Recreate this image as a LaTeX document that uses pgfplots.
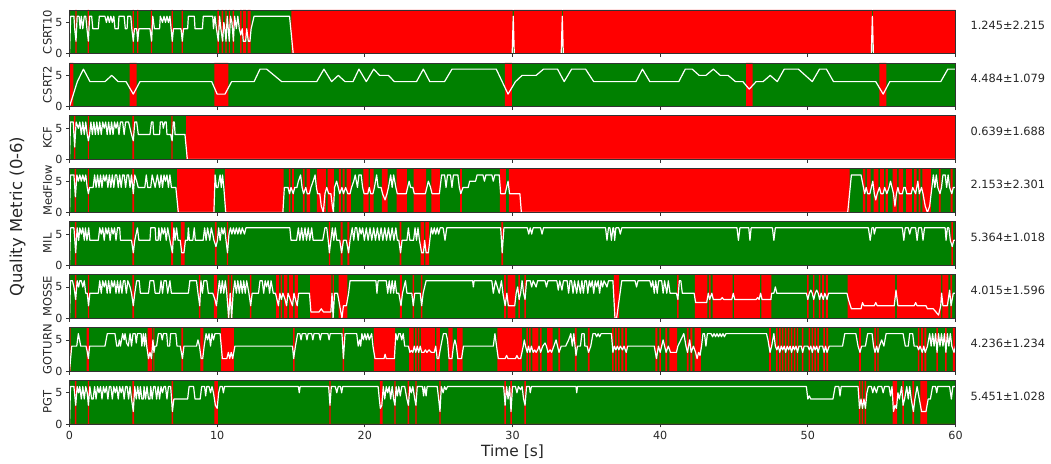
\documentclass[border=0pt]{standalone}
\usepackage{fontspec}
\setmainfont{DejaVu Sans}
\usepackage{pgfplots}
\usepackage{pgfplotstable}
\pgfplotsset{compat=1.18}
\definecolor{mpgreen}{RGB}{0,128,0}
\definecolor{mpred}{RGB}{255,0,0}
\definecolor{spine}{RGB}{50,50,50}

\pgfplotstableread{
t v
0 0
0.08 6
0.3 6
0.35 4
0.44 2
0.52 6
0.65 6
0.72 4
0.8 6
0.9 4
1.0 6
1.1 6
1.18 4
1.28 2
1.36 6
1.5 6
1.58 4
1.95 4
2.02 6
2.4 6
2.5 5
2.6 6
2.7 5
2.8 6
2.9 5
3.0 6
3.08 4
3.3 4
3.35 6
3.7 6
3.78 4
3.9 4
3.95 6
4.15 6
4.22 4
4.32 2
4.4 4
4.55 4
4.62 2
4.7 4
5.45 4
5.56 2
5.64 6
5.75 4
6.1 4
6.15 6
6.3 5
6.4 6
6.5 5
6.6 6
6.7 5
6.8 6
6.88 4
6.96 2
7.04 4
7.55 4
7.64 2
7.72 4
8.0 4
8.05 6
8.45 6
8.5 4
9.0 4
9.06 6
9.7 6
9.75 4
9.85 6
9.95 4
10.08 2
10.16 6
10.25 4
10.37 2
10.45 5
10.52 4
10.6 2
10.68 6
10.75 4
10.82 2
10.9 6
11.0 5
11.1 2
11.18 6
11.3 4
11.4 6
11.5 4
11.6 3
11.7 4
11.77 2
11.93 2
12.0 4
12.11 2
12.22 2
12.3 4
12.5 6
14.9 6
15.15 0
29.98 0
30.05 6
30.12 0
33.3 0
33.37 6
33.44 0
54.3 0
54.37 6
54.44 0
60 0
}\dA

\pgfplotstableread{
t v
0 0
0.53 4
0.94 6
1.39 4
2.4 4
2.86 5
3.3 4
3.83 4
4.32 2
4.77 4
9.63 4
10.0 2
10.53 2
10.98 4
12.5 4
12.9 6
13.35 6
14.37 4
16.74 4
17.23 6
17.75 4
18.2 5
18.66 4
19.2 4
19.6 6
20.1 4
20.6 6
21.0 5
21.6 5
22.0 4
23.5 4
23.96 6
24.4 4
25.4 4
25.9 6
28.9 6
29.25 4.25
29.7 2
30.2 4
30.65 5
31.6 5
32.1 6
33.05 6
33.5 4
34.0 6
34.95 6
35.5 4
38.36 4
38.8 6
39.3 4
41.26 4
41.7 6
42.17 6
42.64 5
43.1 5
43.6 6
44.07 5
44.6 5
45.1 4
45.6 4
46.03 2.8
46.5 4
46.97 4
47.45 5
47.93 4
48.4 6
49.36 6
50.3 4
50.79 6
51.26 6
51.74 4
54.6 4
55.1 2
55.55 4
59.0 4
59.48 6
60 6
}\dB

\pgfplotstableread{
t v
0 0
0.07 6
0.25 6
0.35 2
0.45 6
0.6 5
0.7 6
0.8 4
0.9 6
1.0 4
1.1 6
1.2 4
1.28 3
1.36 4
1.45 6
1.55 4
1.65 6
1.75 4
1.85 6
1.95 4
2.05 6
2.15 4
2.25 6
2.35 5
2.45 6
2.55 4
2.65 6
2.75 4
2.85 6
2.95 4
3.05 6
3.15 5
3.25 6
3.35 4
3.45 6
3.6 6
3.7 4
3.8 6
4.0 6
4.1 5
4.2 4
4.32 3
4.42 6
4.55 6
4.66 4
5.45 4
5.55 6
5.65 6
5.7 4
6.1 4
6.15 6
6.3 6
6.35 5
6.45 6
6.55 6
6.6 4
6.85 4
6.95 3
7.03 6
7.1 6
7.15 4
7.82 4
7.98 0
60 0
}\dC

\pgfplotstableread{
t v
0 0
0.07 6
0.3 6
0.4 2.5
0.5 6
0.6 5
0.7 6
0.8 5
0.9 6
1.0 5
1.1 6
1.2 4
1.28 3
1.36 4
1.6 4
1.7 6
1.8 4
1.9 6
2.0 4
2.1 6
2.2 4
2.3 6
2.4 5
2.5 6
2.6 4
2.7 6
2.8 4
2.9 6
3.0 4
3.1 6
3.2 6
3.3 4
3.4 6
3.5 4
3.6 6
3.7 6
3.8 4
3.9 6
4.0 6
4.1 4
4.2 6
4.32 3
4.42 6
4.55 5
4.65 4
5.1 4
5.2 6
5.3 4
5.5 4
5.6 6
5.7 5
5.8 4
5.95 6
6.1 4
6.2 6
6.3 4
6.4 6
6.5 5
6.6 6
6.7 4
6.8 6
6.9 4
7.2 4
7.37 0
9.78 0
9.86 6
9.95 4
10.05 4
10.2 6
10.28 4
10.36 6
10.45 4
10.58 0
14.45 0
14.55 4
14.8 4
14.9 3
15.0 4
15.15 3
15.25 4
15.4 4
15.5 5
15.65 6
15.75 4
15.85 3
16.0 4
16.1 3
16.25 3
16.35 4
16.5 5
16.63 6
16.72 4
16.8 3
16.95 3
17.05 1
17.19 0
17.3 3
17.42 4
17.55 3
17.7 3
17.8 1
17.87 0
17.95 4
18.09 5
18.2 4
18.3 3
18.45 4
18.55 3
18.7 4
18.85 3
19.0 3
19.1 4
19.25 5
19.35 6
19.5 4
19.6 6
19.75 6
19.85 4
19.95 3
20.2 3
20.3 4
20.4 3
20.55 3
20.65 4
20.8 6
20.9 4
21.1 4
21.2 3
21.37 2
21.5 3
21.6 4
21.75 6
21.85 4
21.95 6
22.1 4
22.2 3
22.8 3
22.9 4
23.0 5
23.1 4
23.25 4
23.35 3
24.1 3
24.2 4
24.3 5
24.45 4
24.55 3
25.05 3
25.1 4
25.2 6
25.4 6
25.5 4
25.6 6
25.8 6
25.9 4
26.0 6
26.3 6
26.4 4
26.5 3
26.65 4
27.0 4
27.1 5
27.5 5
27.6 6
28.0 6
28.1 5
28.2 6
28.6 6
28.7 5
28.8 6
29.1 6
29.2 3
29.5 3
29.6 4
29.7 5
29.8 3
30.5 3
30.6 0
52.7 0
52.95 6
53.6 6
53.85 3
53.95 4
54.05 3
54.2 3
54.3 4
54.4 5
54.5 3
54.6 2
54.7 3
54.85 4
54.95 3
55.1 3
55.2 4
55.35 3
55.5 4
55.6 5
55.7 4
55.8 3
55.9 1
56.0 3
56.1 4
56.2 3
56.4 3
56.5 4
56.6 4
56.7 3
57.0 3
57.1 4
57.3 3
57.45 5
57.55 3
57.7 4
57.8 3
57.95 1
58.1 0
58.25 1
58.4 4
58.5 6
58.6 4
58.7 6
58.8 4
58.95 3
59.05 4
59.15 6
59.3 6
59.4 4
59.5 6
59.6 4
59.75 3
59.85 4
60 4
}\dD

\pgfplotstableread{
t v
0 0
0.07 6
0.3 6
0.42 2
0.52 6
0.62 4
0.7 6
0.8 5
0.9 6
1.0 4
1.08 6
1.18 4
1.3 6
1.38 4
1.95 4
2.05 6
2.15 5
2.25 6
2.35 4
2.45 6
2.55 5
2.65 6
2.75 4
2.85 6
2.95 5
3.05 6
3.15 4
3.25 6
3.4 6
3.45 4
4.2 4
4.32 2
4.42 4
4.6 6
4.7 4
5.45 4
5.5 6
5.8 6
5.85 4
6.0 4
6.05 6
6.15 4
6.25 6
6.35 5
6.45 6
6.55 4
6.65 6
6.8 4
6.97 2
7.07 6
7.15 4
7.25 6
7.35 4
7.5 4
7.6 2
7.75 2
7.85 4
8.0 4
8.05 6
8.12 4
8.35 4
8.45 6
8.52 4
9.05 4
9.15 6
9.25 4
9.35 6
9.5 4
9.6 6
9.7 5
9.78 4
9.92 3
10.02 4
10.1 6
10.2 4
10.3 6
10.4 5
10.5 6
10.6 4
10.7 2
10.8 5
10.9 6
11.0 5
11.1 6
11.2 5
11.3 6
11.4 5
11.5 6
11.6 5
11.7 6
11.85 5
11.95 6
14.92 6
15.0 4
15.38 4
15.5 6
15.6 4
15.72 6
15.82 4
15.95 6
16.05 4
16.17 6
16.27 4
16.4 6
16.5 4
17.15 4
17.3 6
17.42 6
17.52 4
17.6 2
17.7 4
17.8 6
17.9 4
18.0 6
18.1 4
18.3 4
18.43 2
18.55 4
18.75 4
18.9 2
19.0 4
19.15 6
19.25 4
19.35 6
19.45 6
19.55 4
19.65 6
19.75 5
19.85 6
19.97 4
20.1 6
20.22 4
20.35 6
20.47 4
20.6 6
20.72 4
20.85 6
20.97 4
21.1 6
21.22 4
21.35 6
21.47 4
21.6 6
21.72 4
21.85 6
21.97 4
22.1 6
22.2 4
22.3 4
22.42 2
22.52 4
22.85 4
22.95 6
23.05 4
23.3 4
23.4 6
23.5 4
23.6 6
23.7 4
23.85 2
23.97 2
24.05 4
24.15 2
24.3 2
24.4 4
24.5 6
24.6 5
24.7 6
24.8 5
24.9 6
25.0 5
25.1 6
25.3 6
25.43 4
25.55 6
29.2 6
29.3 2
29.42 6
31.0 6
31.1 5
31.2 6
31.3 5
31.4 6
31.9 6
32.0 5
32.1 6
36.3 6
36.4 4
36.5 6
36.6 6
36.7 4
36.8 6
36.85 6
36.92 4
37.0 6
37.2 6
37.3 5
37.4 6
45.2 6
45.3 4
45.4 6
46.0 6
46.08 4
46.16 6
47.6 6
47.7 4
47.8 6
54.1 6
54.22 4
54.34 6
54.45 6
54.5 5
54.6 6
56.4 6
56.5 4
56.6 6
56.8 6
56.9 5
57.0 6
57.3 6
57.4 4
57.5 6
57.7 6
57.8 4
57.9 6
59.3 6
59.36 4
59.45 6
59.55 6
59.65 4
59.78 3
59.88 4
60 4
}\dE

\pgfplotstableread{
t v
0 0
0.07 6
0.2 6
0.3 5
0.42 3
0.52 6
0.62 5
0.7 6
0.8 6
0.9 5
1.0 6
1.1 4
1.2 4
1.29 2
1.38 4
1.95 4
2.05 6
2.15 4
2.25 6
2.35 5
2.45 6
2.55 4
2.65 6
2.75 4
2.85 6
2.95 5
3.05 6
3.15 4
3.25 6
3.35 4
3.45 6
3.55 4
3.65 6
3.75 6
3.85 4
3.95 6
4.1 5
4.2 4
4.32 2
4.42 4
4.55 6
4.72 6
4.8 4
5.35 4
5.45 6
5.7 6
5.8 4
6.1 4
6.2 6
6.3 4
6.4 6
6.55 6
6.65 4
6.8 6
6.9 4
8.05 4
8.15 6
8.6 6
8.7 4
8.82 2
8.9 6
9.0 4
9.1 6
9.3 6
9.4 4
9.7 4
9.85 3
9.95 2
10.05 4
10.15 6
10.25 4
10.35 6
10.45 4
10.55 6
10.65 4
10.78 0
10.88 4
10.98 0
11.08 4
11.2 6
11.3 4
11.4 6
11.5 4
11.6 6
11.7 4
11.8 6
11.9 4
12.0 6
12.15 4
12.27 2
12.37 4
12.8 4
12.9 6
13.05 6
13.15 4
13.25 6
13.35 5
13.45 6
13.55 4
13.65 6
13.8 4
13.95 4
14.05 3
14.15 2
14.25 4
14.35 3
14.45 4
14.6 3
14.7 2
14.8 4
14.95 3
15.1 2
15.2 4
15.3 3
15.42 2
15.52 4
16.25 4
16.35 1
16.9 1
17.05 1.5
17.2 1
17.7 1
17.78 4
17.85 0
17.95 4
18.15 4
18.3 2
18.45 0
18.55 2
18.75 2
18.9 4
19.0 6
20.75 6
20.82 4
20.9 6
21.45 6
21.55 4
21.65 6
21.75 4
21.85 6
21.95 4
22.05 6
22.15 4
22.3 4
22.45 2
22.55 4
22.75 6
22.85 4
23.18 4
23.28 2
23.38 4
23.75 4
23.85 2
23.95 4
24.15 6
27.3 6
27.35 5
27.4 6
28.6 6
28.7 4
28.85 6
29.1 4
29.25 6
29.35 4
29.5 2
29.62 4
29.72 2
30.15 2
30.25 4
30.35 5
30.45 3
30.55 4
30.65 6
30.75 4
30.85 3
30.95 6
31.2 6
31.3 5
31.4 6
31.6 5
31.7 6
32.2 6
32.3 5
32.4 6
33.0 6
33.1 4.5
33.2 6
33.35 4.5
33.45 6
33.7 6
33.8 4
33.9 6
34.0 6
34.1 4
34.2 6
34.35 4
34.45 6
34.6 4
34.7 6
34.8 4
34.9 6
35.0 6
35.1 4
35.2 6
35.3 5
35.4 6
35.5 4
35.6 6
35.7 5
35.8 6
35.9 4
36.0 6
36.1 5
36.2 6
36.4 5
36.5 6
36.8 6
36.94 0
37.05 0
37.4 6
38.3 6
38.4 5
38.5 6
39.3 6
39.4 5
39.5 6
39.6 4
39.7 6
39.8 4
39.9 6
40.1 6
40.2 4
40.3 6
40.45 4
40.55 6
40.67 4
41.1 4
41.2 3
41.3 6
41.4 6
41.5 4
42.3 4
42.4 2.5
43.15 2.5
43.26 4
43.35 3
43.5 4
43.6 3
44.1 3
44.2 3.3
44.3 3
44.85 3
44.95 4
45.05 3
46.5 3
46.6 3.3
46.7 3
46.8 4
46.9 3
47.5 3
47.55 4
47.7 4
47.8 5
47.9 4
49.9 4
50.0 3
50.1 4
50.2 4.5
50.3 4
50.4 3
50.5 4
50.6 4.5
50.7 4
50.8 3
50.9 4
51.05 3
51.15 4
51.3 3
51.4 4
52.65 4
52.75 3
52.95 1.5
53.6 1.5
53.7 2.5
53.8 2
54.5 2
54.6 2.5
54.7 2
55.85 2
55.97 4.5
56.1 2
57.2 2
57.3 2.5
57.4 2
58.0 2
58.1 1.5
58.5 1.5
58.85 0.5
59.0 2
59.06 4
59.15 2
59.45 2
59.6 4.5
59.7 2
59.85 4
60 4
}\dF

\pgfplotstableread{
t v
0 0
0.15 4
0.49 4
0.6 6
0.68 5
0.76 4
1.12 4
1.21 3
1.28 2
1.36 4
2.4 4
2.56 6
3.08 6
3.2 4
3.3 4
3.38 5
3.45 4
3.6 6
3.7 5
3.76 6
3.87 4.5
3.98 4
4.1 6
4.2 4
4.3 6
4.45 6
4.52 4.5
4.6 6
4.85 6
4.9 4
5.0 6
5.08 4
5.15 6
5.23 4
5.35 2
5.45 3
5.55 2
5.65 5
5.72 3
5.79 4
5.9 4
6.02 6
6.2 6
6.28 5
6.36 6
6.58 6
6.65 4
6.78 4
6.85 6
7.2 6
7.28 4
7.5 4
7.65 2
7.75 4
8.6 4
8.7 5
8.8 4
8.92 2
9.02 2
9.12 4
9.25 6
9.35 5
9.45 6
9.55 4
9.65 6
9.75 5
9.85 6
10.2 6
10.35 2
10.65 2
10.76 3
10.85 2
10.95 3
11.05 2
11.2 4
15.1 4
15.18 2
15.3 4
15.45 6
15.6 6
15.68 5
15.76 6
16.0 6
16.08 5
16.16 6
16.4 6
16.48 5
16.56 6
16.9 6
16.98 5
17.06 6
17.5 6
17.58 5
17.66 6
18.45 6
18.55 2
18.66 6
19.45 6
19.55 4
19.65 5
19.72 4
19.8 6
19.9 5
20.0 6
20.1 5
20.2 6
20.3 5
20.46 6
20.55 4
20.69 2
21.3 2
21.37 2.7
21.45 2
22.0 2
22.1 6
22.2 5
22.3 6
22.4 6
22.5 5
22.6 6
22.7 4
22.95 4
23.05 3
23.15 3.3
23.25 3
23.35 4
23.45 3
23.55 4
23.65 3
23.75 4
23.85 3
24.0 3
24.1 3.4
24.2 3
24.35 3.4
24.5 3
24.7 3
24.8 4
24.9 2
25.0 2
25.15 4
25.32 6
25.5 6
25.6 5
25.7 2
25.9 2
26.0 4
26.1 5
26.2 4
26.3 2
26.55 2
26.68 4
28.7 4
28.81 6
28.92 4
29.04 2
29.5 2
29.6 2.5
29.7 2
30.2 2
30.3 2.5
30.4 2
30.55 2
30.73 4
30.8 5
30.88 4
31.0 3
31.08 4
31.18 3
31.28 4
31.4 3
31.5 3.4
31.6 3
31.7 3.4
31.8 4
31.9 3
32.05 4
32.2 4.5
32.3 4
32.4 3
32.55 3.4
32.65 3
32.8 4
32.95 5
33.05 4
33.15 3
33.3 4
33.6 4
33.8 5
33.95 6
34.05 4
34.15 6
34.3 2.5
34.4 4
34.6 4
34.7 6
34.85 6
34.9 4
35.05 4
35.15 3
35.3 4
35.45 6
35.6 6
35.7 5.5
35.8 6
35.9 5.5
36.0 6
36.7 6
36.8 3
36.9 4
37.0 3.4
37.1 4
37.2 3.4
37.3 4
37.45 3.4
37.55 4
37.7 3
37.8 4
39.6 4
39.75 2
39.88 4
40.0 3
40.1 4
40.2 5
40.3 4
40.4 3
40.55 4
40.7 3
41.1 3
41.2 4
41.4 5
41.6 6
41.75 4
41.85 3
42.0 5
42.1 3
42.25 4
42.4 3
42.5 2
42.6 3
42.7 2.5
42.8 4
42.9 6
43.0 6
43.1 4
43.2 6
43.45 6
43.55 5.5
43.65 6
43.75 5.5
43.85 6
43.95 5.5
44.05 6
44.15 5.5
44.25 6
44.35 5.5
44.45 6
47.2 6
47.3 5
47.44 3
47.55 4
47.7 6
47.8 4
47.9 3.4
48.0 4
48.1 3
48.2 4
48.3 3.4
48.4 4
48.5 3
48.6 4
48.7 3.4
48.8 4
48.9 3
49.0 4
49.1 3.4
49.2 4
49.3 3
49.4 4
49.55 4
49.65 3
49.75 4
50.0 4
50.1 3.4
50.2 4
50.3 3
50.4 4
50.5 3.4
50.6 4
50.7 3
50.8 4
51.0 4
51.1 3
51.2 4
51.3 3
51.45 4
52.35 4
52.5 6
53.25 6
53.4 4
53.53 3
53.64 4
53.9 4
54.05 6
54.35 6
54.45 4
54.55 3
54.66 4
54.75 3
54.85 4
55.0 5
55.15 4
55.3 6
56.45 6
56.6 4
56.8 4
56.9 6
57.1 6
57.2 4
57.4 4
57.5 3.4
57.6 4
57.75 3
57.85 4
57.95 3
58.1 4
58.25 6
58.35 4
58.45 6
58.55 4
58.65 6
58.75 3
58.85 6
58.95 4
59.05 6
59.15 4
59.25 6
59.35 3
59.45 6
59.55 4
59.65 6
59.75 4
59.9 3
60 4
}\dG

\pgfplotstableread{
t v
0 0
0.07 6
0.3 6
0.42 3
0.52 6
0.62 5
0.7 6
0.8 4
0.9 6
1.0 4
1.1 6
1.2 5
1.28 3
1.38 6
1.5 4
1.6 4
1.7 6
1.8 4
1.9 6
2.0 5
2.1 6
2.2 4
2.3 6
2.4 5
2.5 6
2.6 4
2.7 6
2.8 6
2.9 4
3.0 6
3.1 5
3.2 6
3.3 4
3.4 6
3.5 5
3.6 6
3.7 4
3.8 6
3.9 6
4.0 4
4.1 6
4.2 4
4.32 2
4.42 6
4.52 4
4.62 6
4.72 4
4.8 6
4.9 4
5.0 4
5.05 6
5.15 4
5.25 6
5.35 4
5.45 4
5.5 6
5.6 4
5.7 6
5.8 6
5.9 4
6.0 6
6.1 4
6.2 6
6.3 5
6.4 6
6.5 6
6.6 4
6.7 6
6.85 6
6.97 2
7.07 4
7.15 4
8.0 4
8.1 6
8.4 6
8.5 4
8.85 4
8.95 6
9.15 6
9.22 4.5
9.3 6
9.45 6
9.55 5
9.65 6
9.75 5
9.88 3
10.0 2.5
10.1 5
10.2 6
10.35 6
10.42 5
10.5 6
15.5 6
15.56 5
15.62 6
17.55 6
17.64 3
17.73 6
18.0 6
18.1 5
18.2 6
18.35 6
18.43 5
18.5 6
20.9 6
20.98 4
21.05 2.5
21.15 3
21.25 6
21.35 4
21.45 6
21.55 5
21.65 6
21.75 4
21.85 6
21.95 4
22.04 3
22.12 6
22.2 4.5
22.3 6
22.4 4.5
22.5 6
22.7 6
22.85 4
22.95 3
23.05 6
23.15 5
23.25 6
23.38 4
23.46 3
23.55 6
23.9 6
23.98 4.5
24.05 6
24.15 4.5
24.22 6
24.9 6
25.0 4
25.09 2
25.18 6
25.3 5
25.4 6
25.5 5.5
25.6 6
29.4 6
29.5 3
29.6 6
29.7 4
29.8 6
29.9 2
30.0 6
30.2 6
30.3 5
30.4 6
30.55 5.5
30.65 6
30.75 4
30.85 3
30.95 6
31.15 6
31.2 5
31.28 6
34.3 6
34.35 5
34.4 6
49.9 6
50.0 4
50.1 4.5
50.2 4
51.7 4
51.85 6
52.1 6
52.18 4.5
52.26 6
53.4 6
53.5 2.5
53.6 4
53.7 2.5
53.8 4
53.9 2.5
54.0 5
54.1 6
54.3 6
54.4 5
54.5 6
54.65 5
54.75 6
55.0 6
55.1 5
55.2 6
55.5 6
55.6 4.5
55.7 6
55.8 2
55.9 3
56.0 2.5
56.1 5
56.2 4
56.35 6
56.45 3
56.55 4
56.7 6
56.8 4
56.9 6
57.0 4
57.15 2
57.25 4
57.4 6
57.55 4
57.7 2
58.0 2
58.15 4
58.3 4
58.45 6
58.65 6
58.73 5
58.8 6
59.6 6
59.72 4
59.82 6
60 6
}\dH

\pgfplotsset{
  panel/.style={
    scale only axis, width=886bp, height=43.7bp,
    xmin=0, xmax=60, ymin=0, ymax=7,
    anchor=south west,
    axis background/.style={fill=mpgreen},
    axis on top,
    xtick={0,10,20,30,40,50,60}, ytick={0,5},
    tick align=outside, major tick length=3.5bp,
    tick style={spine, line width=0.7bp},
    axis line style={spine, line width=0.7bp},
    xtick pos=lower, ytick pos=left,
    tick label style={font=\fontsize{11.2}{13}\selectfont, text=black!85},
    /pgf/number format/assume math mode=true,
  },
  nox/.style={xticklabels={}},
}

\newcommand{\panel}[3]{%
  \begin{axis}[panel, at={(69.5bp,#1bp)}, #3]
    \addplot[const plot mark mid, fill=mpred, draw=none] table[x=t, y expr={7*(\thisrow{v}<3.5)}] {#2} \closedcycle;
    \addplot[white, line width=1.2bp, line join=round] table[x=t, y=v] {#2};
  \end{axis}%
}

\begin{document}
\begin{tikzpicture}
\useasboundingbox (0,0) rectangle (1051bp,464bp);
\panel{410.3}{\dA}{nox}
\panel{357.4}{\dB}{nox}
\panel{304.5}{\dC}{nox}
\panel{251.6}{\dD}{nox}
\panel{198.7}{\dE}{nox}
\panel{145.8}{\dF}{nox}
\panel{92.9}{\dG}{nox}
\panel{40.0}{\dH}{}
\begin{scope}[every node/.style={font=\fontsize{11.6}{13}\selectfont, text=black!85}]
\node[rotate=90] at (47.5bp,432.15bp) {CSRT10};
\node[rotate=90] at (47.5bp,379.25bp) {CSRT2};
\node[rotate=90] at (47.5bp,326.35bp) {KCF};
\node[rotate=90] at (47.5bp,273.45bp) {MedFlow};
\node[rotate=90] at (47.5bp,220.55bp) {MIL};
\node[rotate=90] at (47.5bp,167.65bp) {MOSSE};
\node[rotate=90] at (47.5bp,114.75bp) {GOTURN};
\node[rotate=90] at (47.5bp,61.85bp) {PGT};
\end{scope}
\begin{scope}[every node/.style={font=\fontsize{11.4}{14}\selectfont, text=black!85, anchor=base west}]
\node at (967bp,434bp) {1.245±2.215};
\node at (967bp,381.1bp) {4.484±1.079};
\node at (967bp,328.2bp) {0.639±1.688};
\node at (967bp,275.3bp) {2.153±2.301};
\node at (967bp,222.4bp) {5.364±1.018};
\node at (967bp,169.5bp) {4.015±1.596};
\node at (967bp,116.6bp) {4.236±1.234};
\node at (967bp,63.7bp) {5.451±1.028};
\end{scope}
\node[font=\fontsize{15.5}{18}\selectfont, text=black!85, anchor=base] at (512.5bp,8bp) {Time [s]};
\node[font=\fontsize{16.5}{19}\selectfont, text=black!85, rotate=90] at (17.5bp,247.3bp) {Quality Metric (0-6)};
\end{tikzpicture}
\end{document}
